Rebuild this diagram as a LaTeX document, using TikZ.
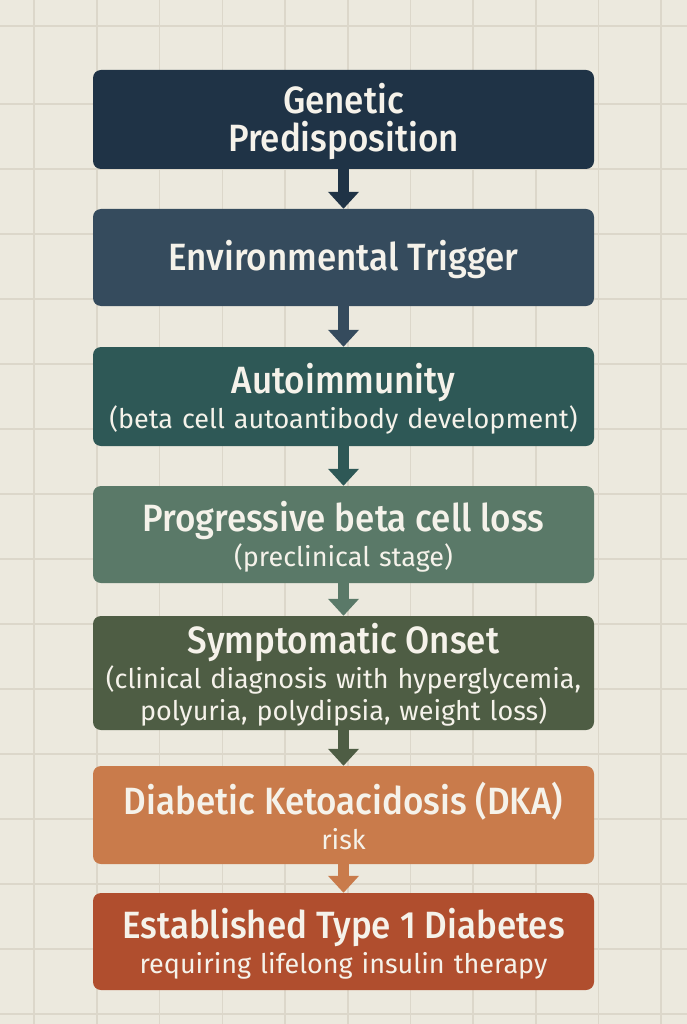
\documentclass[tikz,border=0pt]{standalone}
\usepackage{fontspec}
\usetikzlibrary{arrows.meta}
\setmainfont{Fira Sans}
\newfontfamily\headfont{Fira Sans Medium}[FakeStretch=0.92]

\definecolor{paper}{HTML}{ECE9DE}
\definecolor{gridline}{HTML}{DCD7CA}
\definecolor{ink}{HTML}{F5F2EA}
\definecolor{genetic}{HTML}{1F3346}
\definecolor{trigger}{HTML}{354B5D}
\definecolor{autoimm}{HTML}{2E5856}
\definecolor{betaloss}{HTML}{5A7968}
\definecolor{onset}{HTML}{4E5D44}
\definecolor{dka}{HTML}{C97B4B}
\definecolor{established}{HTML}{B04E2E}

\newcommand{\stagehead}[1]{{\headfont\fontsize{38}{38}\selectfont #1}}

\begin{document}
\begin{tikzpicture}[x=1pt,y=-1pt]
		\tikzstyle{stage}=[rounded corners=8pt, minimum width=501pt, text width=501pt, inner sep=0pt, align=center, text=ink, font=\fontsize{27}{35}\selectfont, execute at begin node={\rule{0pt}{34pt}}]
		\tikzstyle{link}=[line width=11pt, -{Triangle[width=30pt,length=17pt]}]
		\fill [paper] (0,0) rectangle (687,1024);
		\useasboundingbox (0,0) rectangle (687,1024);
		\foreach \gx in {0,...,10}
			\draw [gridline, line width=1.6pt] (34.2+62.7*\gx,0) -- (34.2+62.7*\gx,1024);
		\foreach \gy in {26,104,169,...,1014}
			\draw [gridline, line width=1.6pt] (0,\gy) -- (687,\gy);
		\node [stage, fill=genetic, minimum height=99pt] (gen) at (343.5,119.5) {\stagehead{Genetic}\\[3pt]\stagehead{Predisposition}};
		\node [stage, fill=trigger, minimum height=97pt] (env) at (343.5,257.5) {\stagehead{Environmental Trigger}};
		\node [stage, fill=autoimm, minimum height=99pt] (auto) at (343.5,396.5) {\stagehead{Autoimmunity}\\(beta cell autoantibody development)};
		\node [stage, fill=betaloss, minimum height=97pt] (loss) at (343.5,534.5) {\stagehead{Progressive beta cell loss}\\(preclinical stage)};
		\node [stage, fill=onset, minimum height=114pt] (sym) at (343.5,673) {\stagehead{Symptomatic Onset}\\(clinical diagnosis with hyperglycemia,\\[-3pt]polyuria, polydipsia, weight loss)};
		\node [stage, fill=dka, minimum height=98pt] (keto) at (343.5,815) {\stagehead{Diabetic Ketoacidosis (DKA)}\\risk};
		\node [stage, fill=established, minimum height=97pt] (t1d) at (343.5,941.5) {\stagehead{Established Type 1 Diabetes}\\requiring lifelong insulin therapy};
		\draw [link, draw=genetic] (gen) -- (env);
		\draw [link, draw=trigger] (env) -- (auto);
		\draw [link, draw=autoimm] (auto) -- (loss);
		\draw [link, draw=betaloss] (loss) -- (sym);
		\draw [link, draw=onset] (sym) -- (keto);
		\draw [link, draw=dka] (keto) -- (t1d);
	\end{tikzpicture}
\end{document}
